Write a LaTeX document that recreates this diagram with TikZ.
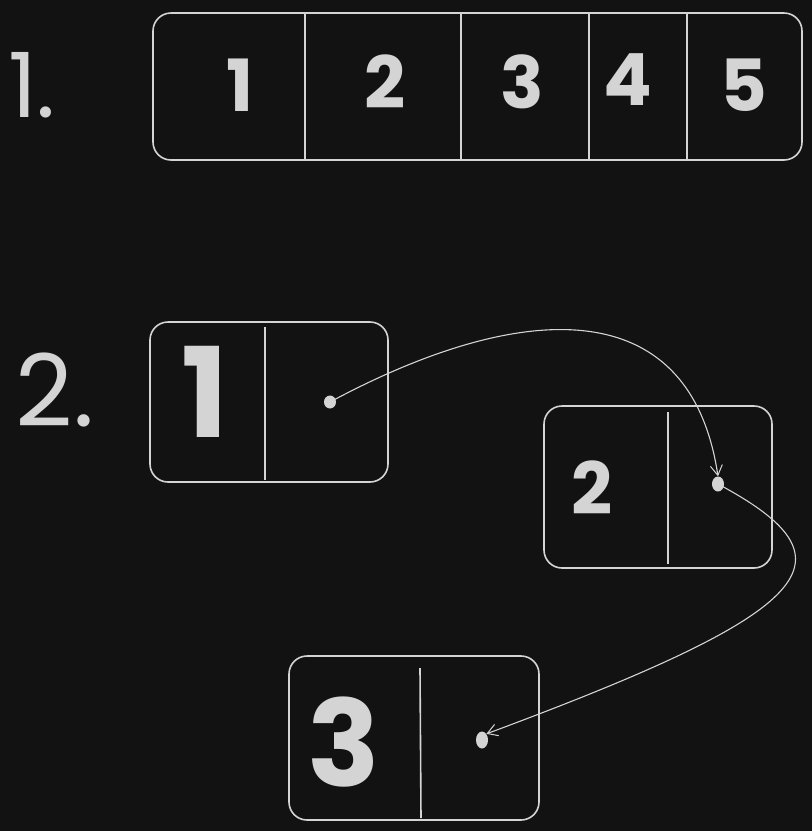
\documentclass[tikz,border=0pt]{standalone}
\usepackage{fontspec}
\newfontfamily\hand{Poppins}
\usetikzlibrary{arrows.meta,shapes.geometric}
\definecolor{bg}{HTML}{121212}
\definecolor{ink}{HTML}{D4D4D4}
\begin{document}
\begin{tikzpicture}[x=1pt,y=-1pt,
  box/.style={draw=ink,line width=1.6pt,rounded corners=18pt},
  divider/.style={draw=ink,line width=1.6pt},
  num/.style={text=ink,font=\hand\bfseries\fontsize{72}{72}\selectfont,inner sep=0pt},
  lbl/.style={text=ink,font=\hand\fontsize{90}{90}\selectfont,inner sep=0pt},
  ptr/.style={fill=ink,draw=none,ellipse},
  link/.style={draw=ink,line width=1.1pt,-{Straight Barb[length=10pt,width=12pt,line width=1pt]}}]
\fill[bg] (0,0) rectangle (812,831);
\useasboundingbox (0,0) rectangle (812,831);
% 1. array
\node[lbl] (l1) at (32,85) {1.};
\draw[box] (153,13) rectangle (802,160);
\draw[divider] (305,13) -- (305,160);
\draw[divider] (461,13) -- (461,160);
\draw[divider] (589,13) -- (589,160);
\draw[divider] (687,13) -- (687,160);
\node[num] (a1) at (240,85) {1};
\node[num] (a2) at (385,82) {2};
\node[num] (a3) at (522,82) {3};
\node[num] (a4) at (628,80) {4};
\node[num] (a5) at (744,85) {5};
% 2. linked list
\node[lbl,font=\hand\fontsize{100}{100}\selectfont] (l2) at (55,390) {2.};
\draw[box] (150,322) rectangle (388,482);
\draw[divider] (265,327) -- (265,480);
\node[num,font=\hand\bfseries\fontsize{125}{125}\selectfont] (b1) at (205,392) {1};
\node[ptr,minimum width=12pt,minimum height=13pt,inner sep=0pt] (p1) at (330,402) {};
\draw[box] (544,406) rectangle (772,568);
\draw[divider] (668,412) -- (668,564);
\node[num] (b2) at (592,488) {2};
\node[ptr,minimum width=12pt,minimum height=15pt,inner sep=0pt] (p2) at (718,484) {};
\draw[box] (289,656) rectangle (539,820);
\draw[divider] (420,668) -- (421,818);
\node[num,font=\hand\bfseries\fontsize{120}{120}\selectfont] (b3) at (344,742) {3};
\node[ptr,minimum width=12pt,minimum height=17pt,inner sep=0pt] (p3) at (482,740) {};
% connectors
\draw[link] (p1.center) .. controls (520,300) and (690,290) .. (p2.north);
\draw[link] (p2.center) .. controls (860,560) and (820,610) .. (p3.north east);
\end{tikzpicture}
\end{document}
